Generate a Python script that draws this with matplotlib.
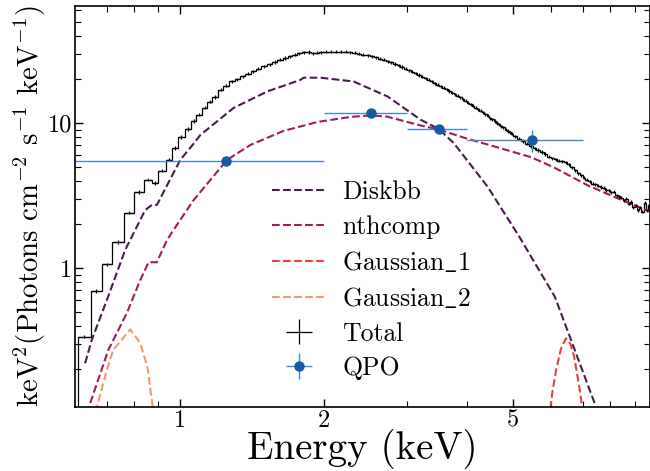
import numpy as np
import matplotlib
matplotlib.use("Agg")
import matplotlib.pyplot as plt
from matplotlib.ticker import FixedLocator, FixedFormatter, NullFormatter

plt.rcParams['font.family'] = ['cmr10', 'DejaVu Serif']
plt.rcParams['mathtext.fontset'] = 'cm'
plt.rcParams['axes.formatter.use_mathtext'] = True

# total spectrum: bin edges (keV) and keV^2 flux per bin
tot_edges = [0.610, 0.649, 0.684, 0.720, 0.762, 0.801, 0.840, 0.872, 0.900, 0.933,
             0.962, 0.987, 1.024, 1.055, 1.081, 1.113, 1.140, 1.168, 1.202, 1.232,
             1.268, 1.300, 1.335, 1.370, 1.405, 1.440, 1.480, 1.520, 1.560, 1.600,
             1.640, 1.680, 1.720, 1.760, 1.800, 1.840, 1.880, 1.920, 1.960,
             2.00, 2.05, 2.10, 2.15, 2.20, 2.25, 2.30, 2.35, 2.40, 2.45,
             2.50, 2.55, 2.60, 2.65, 2.70, 2.75, 2.80, 2.85, 2.90, 2.95,
             3.00, 3.05, 3.10, 3.15, 3.20, 3.25, 3.30, 3.35, 3.40, 3.45,
             3.50, 3.55, 3.60, 3.65, 3.70, 3.75, 3.80, 3.85, 3.90, 3.95,
             4.00, 4.05, 4.10, 4.15, 4.20, 4.25, 4.30, 4.35, 4.40, 4.45,
             4.50, 4.55, 4.60, 4.65, 4.70, 4.75, 4.80, 4.85, 4.90, 4.95,
             5.0, 5.1, 5.2, 5.3, 5.4, 5.5, 5.6, 5.7, 5.8, 5.9,
             6.0, 6.1, 6.2, 6.3, 6.4, 6.5, 6.6, 6.7, 6.8, 6.9,
             7.0, 7.1, 7.2, 7.3, 7.4, 7.5, 7.6, 7.7, 7.8, 7.9,
             8.0, 8.1, 8.2, 8.3, 8.4, 8.5, 8.6, 8.7, 8.8, 8.9,
             9.0, 9.1, 9.2, 9.3, 9.4, 9.5, 9.6, 9.7, 9.8]
total = [0.336, 0.694, 1.061, 1.511, 2.406, 3.343, 4.064, 3.857, 4.688, 5.582,
         6.724, 8.007, 9.09, 10.32, 11.36, 12.69, 13.96, 15.11, 16.89, 18.0,
         19.4, 20.0, 21.0, 21.9, 22.7, 23.6, 24.6, 25.3, 26.3, 27.3,
         28.0, 28.9, 29.5, 30.2, 30.6, 30.8, 30.2, 30.4, 30.7,
         30.9, 31.0, 30.9, 31.0, 30.9, 30.7, 30.4, 30.0, 29.6, 29.2,
         28.8, 28.4, 27.8, 27.2, 26.6, 26.1, 25.5, 24.9, 24.3, 23.7,
         23.1, 22.5, 22.0, 21.4, 20.8, 20.3, 19.8, 19.3, 18.8, 18.3,
         17.9, 17.5, 17.0, 16.6, 16.2, 15.8, 15.4, 15.0, 14.6, 14.2,
         13.8, 13.4, 13.1, 12.7, 12.4, 12.1, 11.8, 11.5, 11.2, 10.8,
         10.6, 10.3, 10.0, 9.8, 9.5, 9.3, 9.0, 8.8, 8.6, 8.4,
         8.1, 7.8, 7.5, 7.2, 6.9, 6.7, 6.5, 6.3, 6.1, 5.85,
         5.7, 5.6, 5.5, 5.45, 5.35, 5.2, 4.95, 4.7, 4.5, 4.35,
         4.2, 4.05, 3.95, 3.8, 3.78, 3.7, 3.62, 3.58, 3.45, 3.42,
         3.33, 3.35, 3.18, 3.12, 3.05, 2.92, 3.0, 2.78, 2.85, 2.62,
         2.7, 2.5, 2.62, 2.45, 2.82, 2.5, 2.7, 2.45]
total_rel_err = 0.025

# model components
diskbb_e = [0.631, 0.652, 0.701, 0.766, 0.844, 0.872, 0.893, 1.0, 1.067, 1.102,
            1.295, 1.525, 1.789, 1.816, 1.97, 2.313, 2.727, 3.201, 3.49, 3.757,
            4.42, 5.15, 6.12, 6.62, 7.42]
diskbb_f = [0.22, 0.32, 0.60, 1.33, 2.51, 2.72, 2.72, 5.56, 7.2, 8.26,
            12.7, 16.5, 19.8, 20.5, 20.5, 19.3, 15.2, 10.5, 9.09, 7.24,
            3.64, 1.65, 0.634, 0.319, 0.117]

nthcomp_e = [0.647, 0.706, 0.772, 0.824, 0.858, 0.893, 0.938, 0.968, 1.067, 1.254,
             1.404, 1.648, 1.944, 2.28, 2.51, 2.72, 3.2, 3.49, 4.0, 4.42,
             5.46, 6.12, 7.19, 8.43, 9.76]
nthcomp_f = [0.117, 0.272, 0.487, 0.826, 1.095, 1.095, 1.56, 1.83, 2.94, 5.56,
             7.05, 8.81, 10.16, 11.0, 11.26, 11.05, 9.6, 9.0, 7.8, 7.1,
             5.8, 4.9, 3.7, 2.95, 2.42]

gauss1_e = [5.95, 6.05, 6.16, 6.31, 6.46, 6.60, 6.72, 6.89, 7.0, 7.05]
gauss1_f = [0.09, 0.14, 0.198, 0.279, 0.327, 0.30, 0.244, 0.152, 0.105, 0.08]

gauss2_e = [0.66, 0.668, 0.701, 0.723, 0.785, 0.824, 0.854, 0.875, 0.88]
gauss2_f = [0.085, 0.11, 0.198, 0.272, 0.377, 0.304, 0.204, 0.11, 0.085]

# QPO rms spectrum
qpo_e = [1.25, 2.51, 3.49, 5.48]
qpo_f = [5.47, 11.7, 9.09, 7.64]
qpo_lo = [0.5, 2.0, 3.0, 4.0]
qpo_hi = [2.0, 3.0, 4.0, 7.0]
qpo_ferr = [0.15, 0.3, 0.3, 1.3]

fig = plt.figure(figsize=(6.5, 4.71), dpi=100)
ax = fig.add_axes([0.1154, 0.1359, 0.8846, 0.8514])

ax.plot(diskbb_e, diskbb_f, ls='--', lw=1.5, color='#4a1c4e', label='Diskbb')
ax.plot(nthcomp_e, nthcomp_f, ls='--', lw=1.5, color='#a8185b', label='nthcomp')
ax.plot(gauss1_e, gauss1_f, ls='--', lw=1.5, color='#e8413c', label=r'Gaussian$\_$1')
ax.plot(gauss2_e, gauss2_f, ls='--', lw=1.5, color='#f69a6a', label=r'Gaussian$\_$2')

edges = np.array(tot_edges)
tot = np.array(total)
cen = np.sqrt(edges[:-1] * edges[1:])
ax.stairs(tot, edges, color='k', lw=0.9)
ax.errorbar(cen, tot, xerr=[cen - edges[:-1], edges[1:] - cen], yerr=tot * total_rel_err,
            fmt='none', ecolor='k', elinewidth=0.9, label='Total')

qe = np.array(qpo_e)
ax.errorbar(qe, qpo_f, xerr=[qe - np.array(qpo_lo), np.array(qpo_hi) - qe], yerr=qpo_ferr,
            fmt='o', ms=6.5, color='#1659a6', ecolor='#4a88c8', elinewidth=1.0, label='QPO')

ax.set_xscale('log')
ax.set_yscale('log')
ax.set_xlim(0.601, 9.7)
ax.set_ylim(0.11, 64)

ax.xaxis.set_major_locator(FixedLocator([1, 2, 5]))
ax.xaxis.set_major_formatter(FixedFormatter(['1', '2', '5']))
ax.xaxis.set_minor_locator(FixedLocator([0.7, 0.8, 0.9, 3, 4, 6, 7, 8, 9]))
ax.xaxis.set_minor_formatter(NullFormatter())
ax.yaxis.set_major_locator(FixedLocator([1, 10]))
ax.yaxis.set_major_formatter(FixedFormatter(['1', '10']))
ax.yaxis.set_minor_locator(FixedLocator([0.2, 0.3, 0.4, 0.5, 0.6, 0.7, 0.8, 0.9,
                                         2, 3, 4, 5, 6, 7, 8, 9, 20, 30, 40, 50, 60]))
ax.yaxis.set_minor_formatter(NullFormatter())

ax.tick_params(which='both', direction='in', top=True, right=True, labelsize=17.5, pad=2)
ax.tick_params(which='major', length=6, width=1)
ax.tick_params(which='minor', length=4, width=0.8)
for s in ax.spines.values():
    s.set_linewidth(1.2)

ax.set_xlabel('Energy (keV)', fontsize=28, labelpad=-2)
ax.set_ylabel(r'keV$^2$(Photons cm$^{-2}$ s$^{-1}$ keV$^{-1}$)', fontsize=20.8, labelpad=0)

ax.legend(loc='upper left', bbox_to_anchor=(0.306, 0.617), frameon=False, fontsize=18.5,
          handlelength=2.15, handletextpad=0.6, labelspacing=0.43, borderpad=0.3)

fig.savefig('out.png', dpi=100)
